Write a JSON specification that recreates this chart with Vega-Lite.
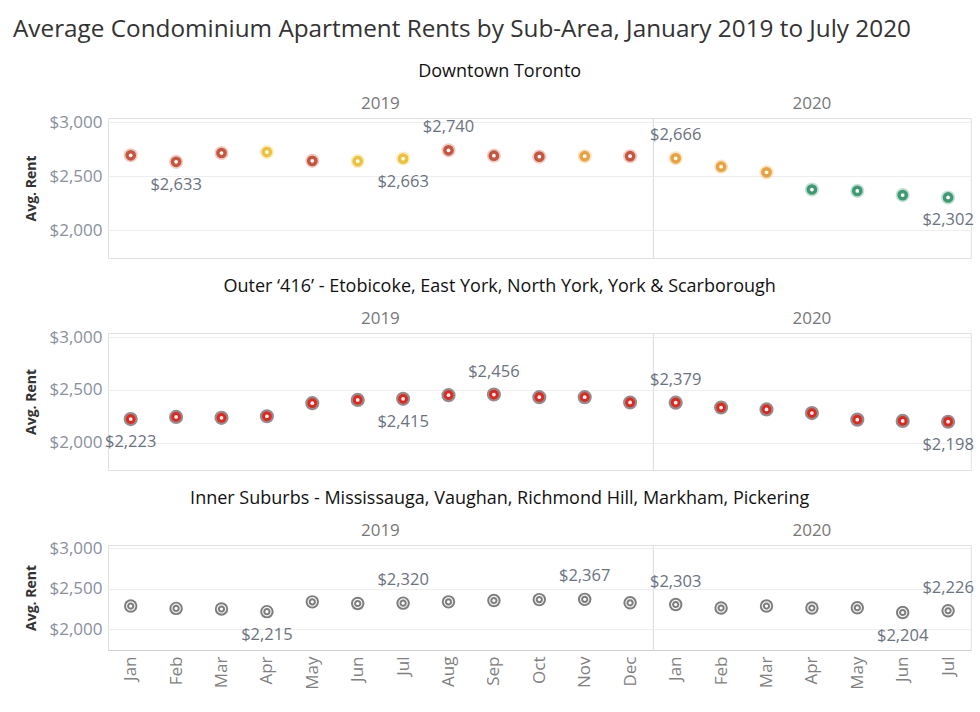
{
  "$schema": "https://vega.github.io/schema/vega-lite/v6.json",
  "padding": {"left": 12, "top": 17, "right": 4, "bottom": 6},
  "background": "white",
  "title": {"text": "Average Condominium Apartment Rents by Sub-Area, January 2019 to July 2020", "anchor": "start", "dx": -12, "fontSize": 24.3, "font": "Open Sans", "fontWeight": "normal", "color": "#333333", "offset": 21},
  "config": {
    "font": "Open Sans",
    "view": {"stroke": "#e0e0e0"},
    "axis": {"gridColor": "#eeeeee", "domainColor": "#d8d8d8", "ticks": false, "labelFont": "Open Sans", "titleFont": "Open Sans"},
    "header": {"labelFont": "Open Sans"},
    "title": {"font": "Open Sans"}
  },
  "data": {"values": [
    {"area": "Downtown Toronto", "year": "2019", "month": "Jan", "rent": 2694, "tier": "A"},
    {"area": "Downtown Toronto", "year": "2019", "month": "Feb", "rent": 2633, "tier": "A", "note": "low"},
    {"area": "Downtown Toronto", "year": "2019", "month": "Mar", "rent": 2715, "tier": "A"},
    {"area": "Downtown Toronto", "year": "2019", "month": "Apr", "rent": 2724, "tier": "B"},
    {"area": "Downtown Toronto", "year": "2019", "month": "May", "rent": 2642, "tier": "A"},
    {"area": "Downtown Toronto", "year": "2019", "month": "Jun", "rent": 2639, "tier": "B"},
    {"area": "Downtown Toronto", "year": "2019", "month": "Jul", "rent": 2663, "tier": "B", "note": "low"},
    {"area": "Downtown Toronto", "year": "2019", "month": "Aug", "rent": 2740, "tier": "A", "note": "high"},
    {"area": "Downtown Toronto", "year": "2019", "month": "Sep", "rent": 2690, "tier": "A"},
    {"area": "Downtown Toronto", "year": "2019", "month": "Oct", "rent": 2681, "tier": "A"},
    {"area": "Downtown Toronto", "year": "2019", "month": "Nov", "rent": 2685, "tier": "C"},
    {"area": "Downtown Toronto", "year": "2019", "month": "Dec", "rent": 2685, "tier": "A"},
    {"area": "Downtown Toronto", "year": "2020", "month": "Jan", "rent": 2666, "tier": "C", "note": "high"},
    {"area": "Downtown Toronto", "year": "2020", "month": "Feb", "rent": 2588, "tier": "C"},
    {"area": "Downtown Toronto", "year": "2020", "month": "Mar", "rent": 2536, "tier": "C"},
    {"area": "Downtown Toronto", "year": "2020", "month": "Apr", "rent": 2376, "tier": "D"},
    {"area": "Downtown Toronto", "year": "2020", "month": "May", "rent": 2363, "tier": "D"},
    {"area": "Downtown Toronto", "year": "2020", "month": "Jun", "rent": 2324, "tier": "D"},
    {"area": "Downtown Toronto", "year": "2020", "month": "Jul", "rent": 2302, "tier": "D", "note": "low"},
    {"area": "Outer 416", "year": "2019", "month": "Jan", "rent": 2223, "note": "low"},
    {"area": "Outer 416", "year": "2019", "month": "Feb", "rent": 2244},
    {"area": "Outer 416", "year": "2019", "month": "Mar", "rent": 2235},
    {"area": "Outer 416", "year": "2019", "month": "Apr", "rent": 2250},
    {"area": "Outer 416", "year": "2019", "month": "May", "rent": 2374},
    {"area": "Outer 416", "year": "2019", "month": "Jun", "rent": 2405},
    {"area": "Outer 416", "year": "2019", "month": "Jul", "rent": 2415, "note": "low"},
    {"area": "Outer 416", "year": "2019", "month": "Aug", "rent": 2450},
    {"area": "Outer 416", "year": "2019", "month": "Sep", "rent": 2456, "note": "high"},
    {"area": "Outer 416", "year": "2019", "month": "Oct", "rent": 2431},
    {"area": "Outer 416", "year": "2019", "month": "Nov", "rent": 2431},
    {"area": "Outer 416", "year": "2019", "month": "Dec", "rent": 2381},
    {"area": "Outer 416", "year": "2020", "month": "Jan", "rent": 2379, "note": "high"},
    {"area": "Outer 416", "year": "2020", "month": "Feb", "rent": 2333},
    {"area": "Outer 416", "year": "2020", "month": "Mar", "rent": 2315},
    {"area": "Outer 416", "year": "2020", "month": "Apr", "rent": 2280},
    {"area": "Outer 416", "year": "2020", "month": "May", "rent": 2218},
    {"area": "Outer 416", "year": "2020", "month": "Jun", "rent": 2206},
    {"area": "Outer 416", "year": "2020", "month": "Jul", "rent": 2198, "note": "low"},
    {"area": "Inner Suburbs", "year": "2019", "month": "Jan", "rent": 2284},
    {"area": "Inner Suburbs", "year": "2019", "month": "Feb", "rent": 2255},
    {"area": "Inner Suburbs", "year": "2019", "month": "Mar", "rent": 2248},
    {"area": "Inner Suburbs", "year": "2019", "month": "Apr", "rent": 2215, "note": "low"},
    {"area": "Inner Suburbs", "year": "2019", "month": "May", "rent": 2336},
    {"area": "Inner Suburbs", "year": "2019", "month": "Jun", "rent": 2316},
    {"area": "Inner Suburbs", "year": "2019", "month": "Jul", "rent": 2320, "note": "high"},
    {"area": "Inner Suburbs", "year": "2019", "month": "Aug", "rent": 2336},
    {"area": "Inner Suburbs", "year": "2019", "month": "Sep", "rent": 2352},
    {"area": "Inner Suburbs", "year": "2019", "month": "Oct", "rent": 2364},
    {"area": "Inner Suburbs", "year": "2019", "month": "Nov", "rent": 2367, "note": "high"},
    {"area": "Inner Suburbs", "year": "2019", "month": "Dec", "rent": 2324},
    {"area": "Inner Suburbs", "year": "2020", "month": "Jan", "rent": 2303, "note": "high"},
    {"area": "Inner Suburbs", "year": "2020", "month": "Feb", "rent": 2260},
    {"area": "Inner Suburbs", "year": "2020", "month": "Mar", "rent": 2284},
    {"area": "Inner Suburbs", "year": "2020", "month": "Apr", "rent": 2260},
    {"area": "Inner Suburbs", "year": "2020", "month": "May", "rent": 2263},
    {"area": "Inner Suburbs", "year": "2020", "month": "Jun", "rent": 2204, "note": "low"},
    {"area": "Inner Suburbs", "year": "2020", "month": "Jul", "rent": 2226, "note": "high"}
  ]},
  "spacing": 19,
  "vconcat": [
    {
      "transform": [{"filter": "datum.area === 'Downtown Toronto'"}],
      "title": {"text": "Downtown Toronto", "anchor": "middle", "frame": "bounds", "fontSize": 18, "fontWeight": "normal", "color": "#111111", "offset": 14},
      "facet": {"column": {"field": "year", "type": "ordinal", "header": {"title": null, "labelColor": "#777777", "labelFontSize": 17, "labelPadding": 5}}},
      "spacing": {"column": 0},
      "bounds": "flush",
      "resolve": {"scale": {"x": "independent"}},
      "spec": {
        "width": {"step": 45.4},
        "height": 140,
        "encoding": {
          "x": {"field": "month", "type": "ordinal", "sort": ["Jan","Feb","Mar","Apr","May","Jun","Jul","Aug","Sep","Oct","Nov","Dec"], "axis": null},
          "y": {"field": "rent", "type": "quantitative", "scale": {"domain": [1740, 3040], "nice": false, "zero": false},
                "axis": {"values": [2000, 2500, 3000], "format": "$,.0f", "title": "Avg. Rent", "titleFontSize": 14, "titleFontWeight": "bold", "titleColor": "#333333", "titlePadding": 10, "labelColor": "#8a909c", "labelFontSize": 17, "labelPadding": 6, "domain": false}}
        },
        "layer": [
          {"mark": {"type": "circle", "size": 200, "opacity": 0.3}, "encoding": {"color": {"field": "tier", "type": "nominal", "scale": {"domain": ["A","B","C","D"], "range": ["#c8563f", "#eec13b", "#e9a23c", "#3d9a73"]}, "legend": null}}},
          {"mark": {"type": "circle", "size": 115, "opacity": 1}, "encoding": {"color": {"field": "tier", "type": "nominal", "scale": {"domain": ["A","B","C","D"], "range": ["#c8563f", "#eec13b", "#e9a23c", "#3d9a73"]}, "legend": null}}},
          {"mark": {"type": "circle", "size": 14, "color": "white", "opacity": 1}},
          {"transform": [{"filter": "datum.note === 'high'"}], "mark": {"type": "text", "dy": -23, "fontSize": 16.5, "color": "#6b7380"}, "encoding": {"text": {"field": "rent", "type": "quantitative", "format": "$,.0f"}}},
          {"transform": [{"filter": "datum.note === 'low'"}], "mark": {"type": "text", "dy": 23, "fontSize": 16.5, "color": "#6b7380"}, "encoding": {"text": {"field": "rent", "type": "quantitative", "format": "$,.0f"}}}
        ]
      }
    },
    {
      "transform": [{"filter": "datum.area === 'Outer 416'"}],
      "title": {"text": "Outer ‘416’ - Etobicoke, East York, North York, York & Scarborough", "anchor": "middle", "frame": "bounds", "fontSize": 18, "fontWeight": "normal", "color": "#111111", "offset": 14},
      "facet": {"column": {"field": "year", "type": "ordinal", "header": {"title": null, "labelColor": "#777777", "labelFontSize": 17, "labelPadding": 5}}},
      "spacing": {"column": 0},
      "bounds": "flush",
      "resolve": {"scale": {"x": "independent"}},
      "spec": {
        "width": {"step": 45.4},
        "height": 137,
        "encoding": {
          "x": {"field": "month", "type": "ordinal", "sort": ["Jan","Feb","Mar","Apr","May","Jun","Jul","Aug","Sep","Oct","Nov","Dec"], "axis": null},
          "y": {"field": "rent", "type": "quantitative", "scale": {"domain": [1740, 3040], "nice": false, "zero": false},
                "axis": {"values": [2000, 2500, 3000], "format": "$,.0f", "title": "Avg. Rent", "titleFontSize": 14, "titleFontWeight": "bold", "titleColor": "#333333", "titlePadding": 10, "labelColor": "#8a909c", "labelFontSize": 17, "labelPadding": 6, "domain": false}}
        },
        "layer": [
          {"mark": {"type": "circle", "size": 200, "color": "#7a7a7a", "opacity": 0.85}},
          {"mark": {"type": "circle", "size": 95, "color": "#e8241b", "opacity": 1}},
          {"mark": {"type": "circle", "size": 14, "color": "white", "opacity": 1}},
          {"transform": [{"filter": "datum.note === 'high'"}], "mark": {"type": "text", "dy": -23, "fontSize": 16.5, "color": "#6b7380"}, "encoding": {"text": {"field": "rent", "type": "quantitative", "format": "$,.0f"}}},
          {"transform": [{"filter": "datum.note === 'low'"}], "mark": {"type": "text", "dy": 23, "fontSize": 16.5, "color": "#6b7380"}, "encoding": {"text": {"field": "rent", "type": "quantitative", "format": "$,.0f"}}}
        ]
      }
    },
    {
      "transform": [{"filter": "datum.area === 'Inner Suburbs'"}],
      "title": {"text": "Inner Suburbs - Mississauga, Vaughan, Richmond Hill, Markham, Pickering", "anchor": "middle", "frame": "bounds", "fontSize": 18, "fontWeight": "normal", "color": "#111111", "offset": 14},
      "facet": {"column": {"field": "year", "type": "ordinal", "header": {"title": null, "labelColor": "#777777", "labelFontSize": 17, "labelPadding": 5}}},
      "spacing": {"column": 0},
      "bounds": "flush",
      "resolve": {"scale": {"x": "independent"}},
      "spec": {
        "width": {"step": 45.4},
        "height": 105,
        "encoding": {
          "x": {"field": "month", "type": "ordinal", "sort": ["Jan","Feb","Mar","Apr","May","Jun","Jul","Aug","Sep","Oct","Nov","Dec"],
                "axis": {"title": null, "labelAngle": -90, "labelColor": "#808080", "labelFontSize": 17, "labelPadding": 6, "domainColor": "#d0d0d0"}},
          "y": {"field": "rent", "type": "quantitative", "scale": {"domain": [1740, 3040], "nice": false, "zero": false},
                "axis": {"values": [2000, 2500, 3000], "format": "$,.0f", "title": "Avg. Rent", "titleFontSize": 14, "titleFontWeight": "bold", "titleColor": "#333333", "titlePadding": 10, "labelColor": "#8a909c", "labelFontSize": 17, "labelPadding": 6, "domain": false}}
        },
        "layer": [
          {"mark": {"type": "circle", "size": 180, "color": "#7d7d7d", "opacity": 1}},
          {"mark": {"type": "point", "shape": "circle", "size": 70, "color": "#ffffff", "strokeWidth": 1.2, "opacity": 0.9}},
          {"mark": {"type": "circle", "size": 10, "color": "#ffffff", "opacity": 1}},
          {"transform": [{"filter": "datum.note === 'high'"}], "mark": {"type": "text", "dy": -23, "fontSize": 16.5, "color": "#6b7380"}, "encoding": {"text": {"field": "rent", "type": "quantitative", "format": "$,.0f"}}},
          {"transform": [{"filter": "datum.note === 'low'"}], "mark": {"type": "text", "dy": 23, "fontSize": 16.5, "color": "#6b7380"}, "encoding": {"text": {"field": "rent", "type": "quantitative", "format": "$,.0f"}}}
        ]
      }
    }
  ]
}
